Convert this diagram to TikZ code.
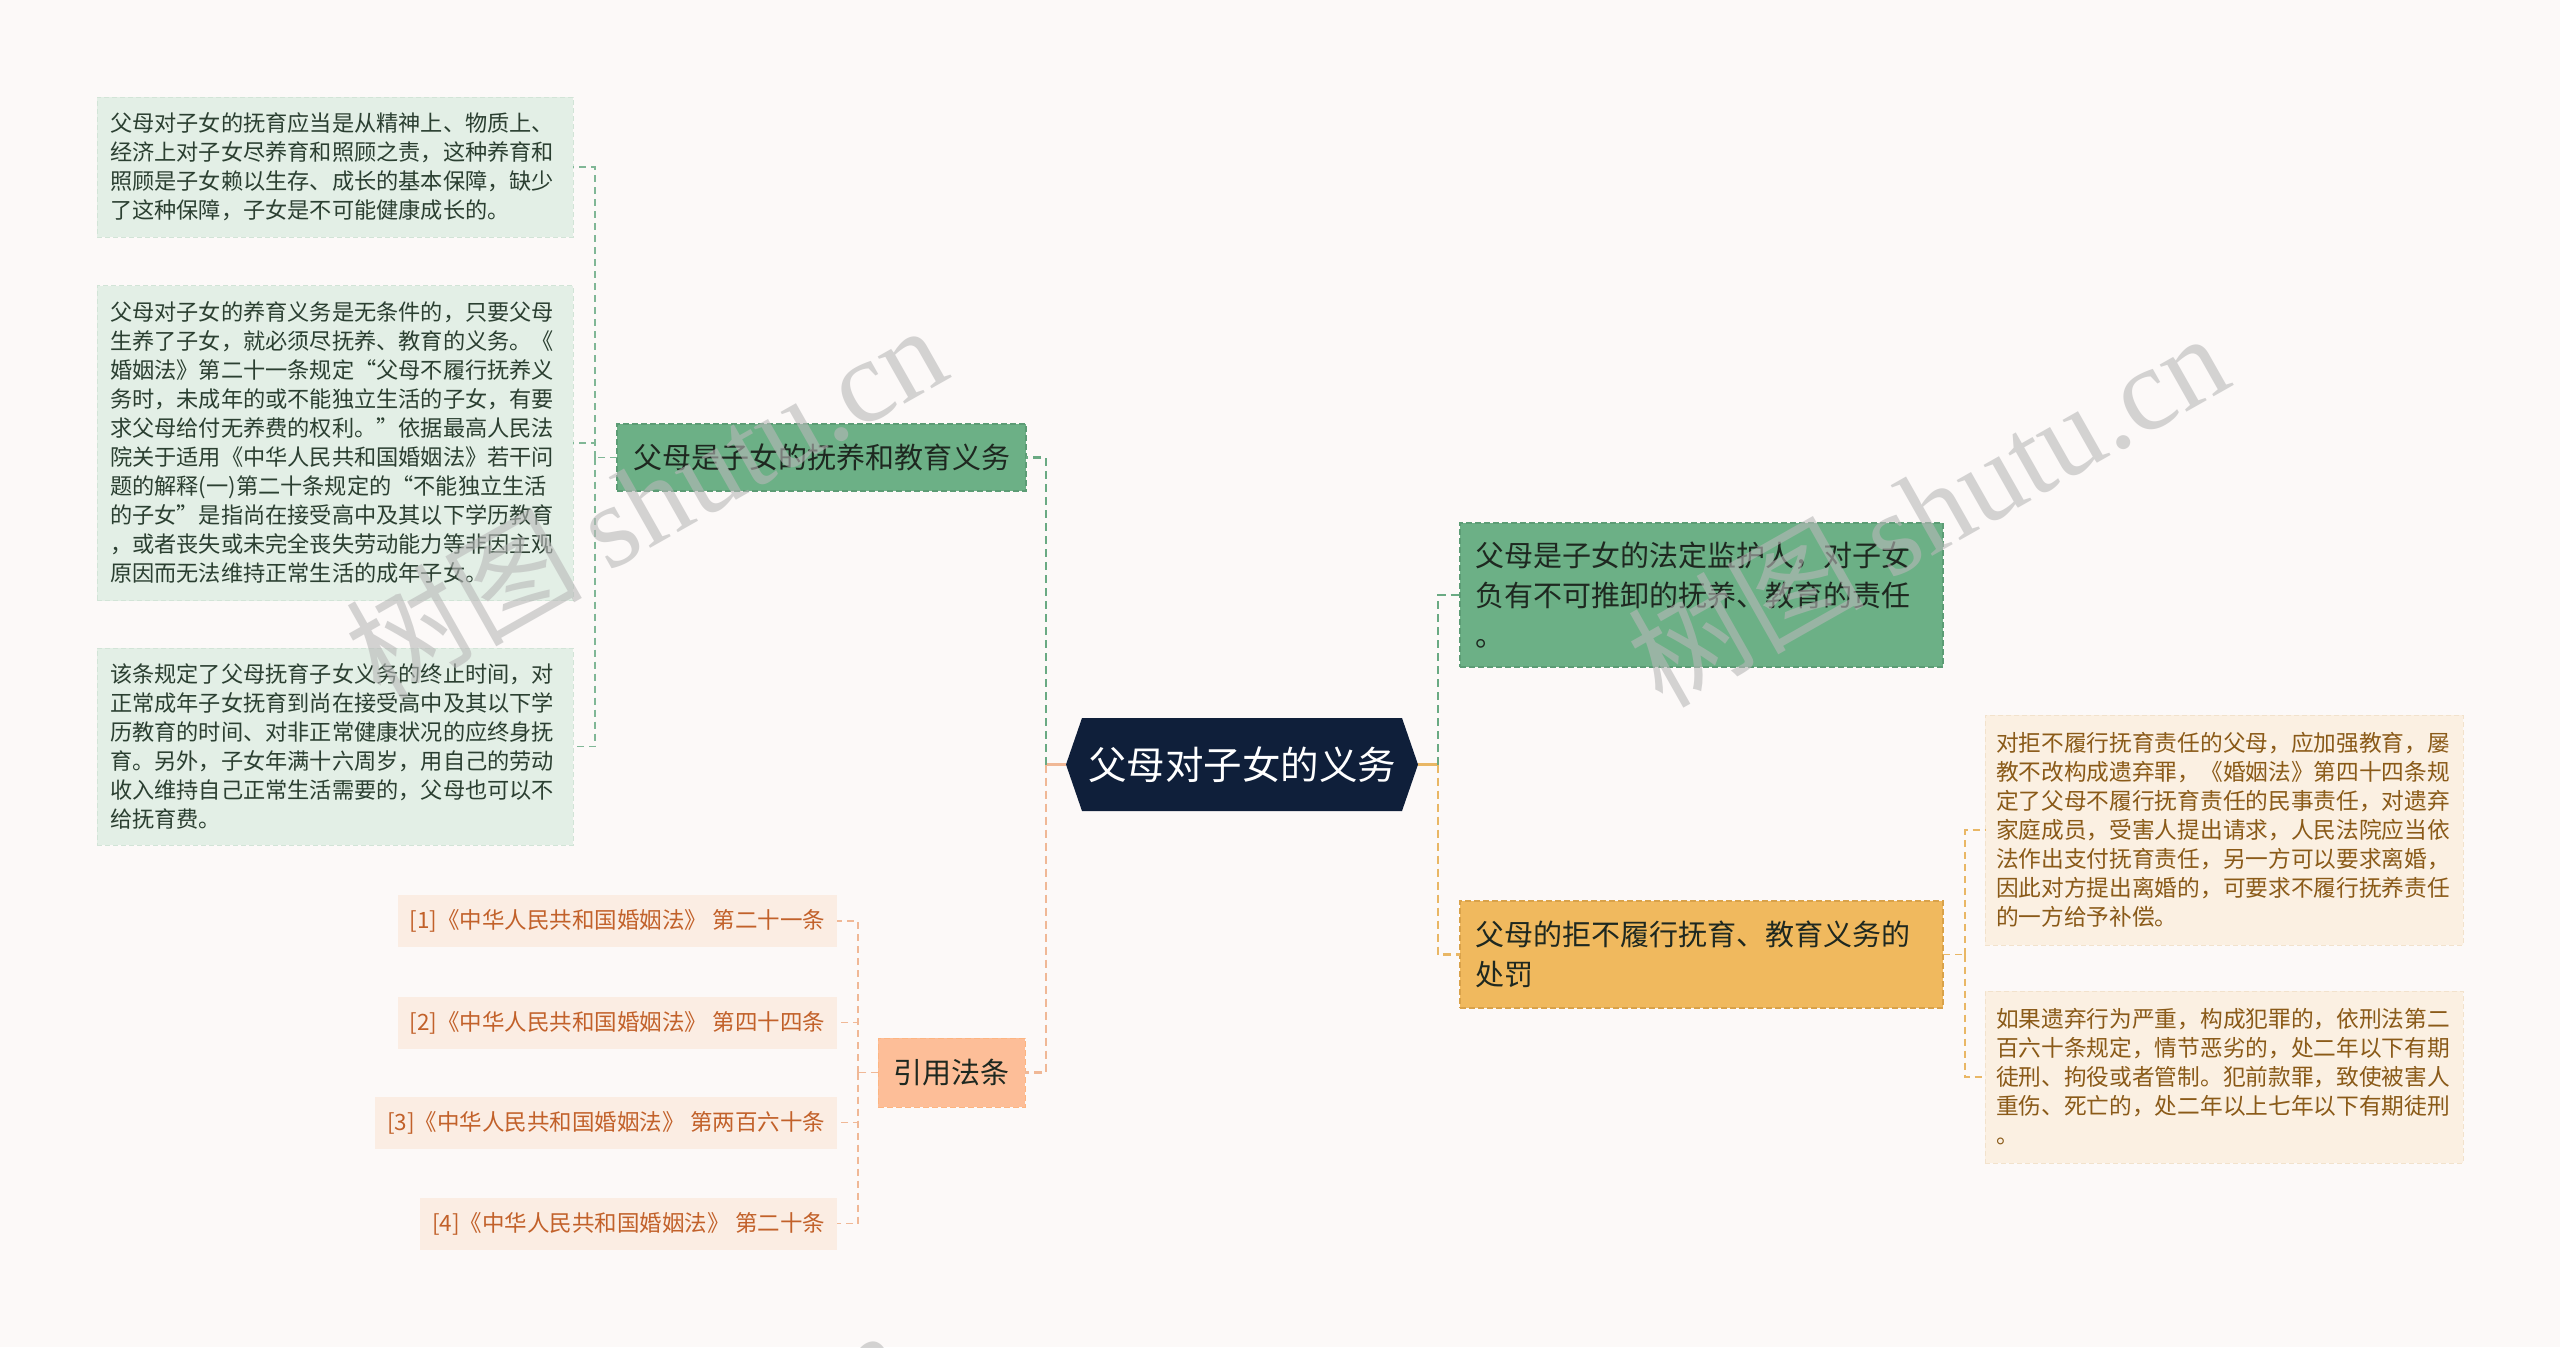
\documentclass[tikz,border=0pt]{standalone}
\usepackage{fontspec}
\setmainfont{Noto Sans CJK SC}
\newfontfamily\wmserif{Liberation Serif}
\usetikzlibrary{calc}
\definecolor{bg}{HTML}{FCF9F8}
\definecolor{navy}{HTML}{0F1F3A}
\definecolor{gfill}{HTML}{6CB086}
\definecolor{gborder}{HTML}{5C9C75}
\definecolor{gline}{HTML}{6AAA83}
\definecolor{lgfill}{HTML}{E3EFE6}
\definecolor{lgborder}{HTML}{D2E4D7}
\definecolor{lgtext}{HTML}{2B3F31}
\definecolor{btext}{HTML}{1E2820}
\definecolor{pfill}{HTML}{FDBE98}
\definecolor{pline}{HTML}{F0B896}
\definecolor{rfill}{HTML}{FBEDE3}
\definecolor{rtext}{HTML}{C2612A}
\definecolor{yfill}{HTML}{F0B95E}
\definecolor{yborder}{HTML}{D9A24A}
\definecolor{yline}{HTML}{E9B765}
\definecolor{cfill}{HTML}{FBF0E2}
\definecolor{cborder}{HTML}{F2E2CC}
\definecolor{ctext}{HTML}{8A5A18}
\begin{document}
\begin{tikzpicture}[x=1pt,y=-1pt,
  every node/.style={inner sep=0pt, outer sep=0pt},
  rootn/.style={minimum width=352pt, minimum height=93pt, text=white, font=\fontsize{38.5}{46}\selectfont},
  gbranch/.style={fill=gfill, draw=gborder, line width=1.2pt, dash pattern=on 6pt off 3pt, text=btext, font=\fontsize{29}{40}\selectfont},
  ybranch/.style={fill=yfill, draw=yborder, line width=1.2pt, dash pattern=on 6pt off 3pt, text=btext, font=\fontsize{29}{40}\selectfont},
  citen/.style={fill=pfill, draw=pfill!85!orange, line width=1pt, dash pattern=on 6pt off 3pt, text=btext, font=\fontsize{29}{40}\selectfont, minimum width=147pt, minimum height=69pt},
  lgleaf/.style={fill=lgfill, draw=lgborder, line width=1pt, dash pattern=on 5pt off 3pt, text=lgtext, text width=450pt, inner xsep=13pt, align=left, font=\fontsize{22.2}{29}\selectfont},
  cleaf/.style={fill=cfill, draw=cborder, line width=1pt, dash pattern=on 5pt off 3pt, text=ctext, text width=456pt, inner xsep=11pt, align=left, font=\fontsize{22.7}{29}\selectfont},
  refn/.style={fill=rfill, text=rtext, inner xsep=12pt, minimum height=52pt, anchor=east, font=\fontsize{22.5}{29}\selectfont},
  gtrunk/.style={draw=gline, line width=2.5pt, dash pattern=on 8pt off 5pt},
  ptrunk/.style={draw=pline, line width=2.5pt, dash pattern=on 8pt off 5pt},
  ytrunk/.style={draw=yline, line width=2.5pt, dash pattern=on 8pt off 5pt},
  gleafc/.style={draw=gline!85, line width=1.5pt, dash pattern=on 7pt off 5pt},
  pleafc/.style={draw=pline, line width=1.5pt, dash pattern=on 7pt off 5pt},
  yleafc/.style={draw=yline, line width=1.5pt, dash pattern=on 7pt off 5pt},
  wm/.style={text=black!28, opacity=0.6, rotate=29.5, font=\fontsize{118}{120}\selectfont}
]
\fill[bg] (0,0) rectangle (2560,1347);
\useasboundingbox (0,0) rectangle (2560,1347);

% root
\fill[navy] (1066,764.5) -- (1082,718) -- (1402,718) -- (1418,764.5) -- (1402,811) -- (1082,811) -- cycle;
\node[rootn] (root) at (1242,764.5) {父母对子女的义务};

% main branches
\node[gbranch, minimum width=409pt, minimum height=67pt] (bA) at (821.5,457.5) {父母是子女的抚养和教育义务};
\node[citen] (cite) at (951.5,1072.5) {引用法条};
\node[gbranch, text width=453pt, inner xsep=15pt, align=left, minimum height=144pt] (bB) at (1701.5,595) {父母是子女的法定监护人，对子女\\负有不可推卸的抚养、教育的责任\\。};
\node[ybranch, text width=453pt, inner xsep=15pt, align=left, minimum height=107pt] (bC) at (1701.5,954.5) {父母的拒不履行抚育、教育义务的\\处罚};

% left leaves
\node[lgleaf, minimum height=140pt] (lA1) at (335,167) {父母对子女的抚育应当是从精神上、物质上、\\经济上对子女尽养育和照顾之责，这种养育和\\照顾是子女赖以生存、成长的基本保障，缺少\\了这种保障，子女是不可能健康成长的。};
\node[lgleaf, minimum height=315pt] (lA2) at (335,443) {父母对子女的养育义务是无条件的，只要父母\\生养了子女，就必须尽抚养、教育的义务。《\\婚姻法》第二十一条规定“父母不履行抚养义\\务时，未成年的或不能独立生活的子女，有要\\求父母给付无养费的权利。”依据最高人民法\\院关于适用《中华人民共和国婚姻法》若干问\\题的解释(一)第二十条规定的“不能独立生活\\的子女”是指尚在接受高中及其以下学历教育\\，或者丧失或未完全丧失劳动能力等非因主观\\原因而无法维持正常生活的成年子女。};
\node[lgleaf, minimum height=197pt] (lA3) at (335,746.5) {该条规定了父母抚育子女义务的终止时间，对\\正常成年子女抚育到尚在接受高中及其以下学\\历教育的时间、对非正常健康状况的应终身抚\\育。另外，子女年满十六周岁，用自己的劳动\\收入维持自己正常生活需要的，父母也可以不\\给抚育费。};

% references
\node[refn] (r1) at (837,921) {[1]《中华人民共和国婚姻法》 第二十一条};
\node[refn] (r2) at (837,1022.5) {[2]《中华人民共和国婚姻法》 第四十四条};
\node[refn] (r3) at (837,1122.5) {[3]《中华人民共和国婚姻法》 第两百六十条};
\node[refn] (r4) at (837,1223.5) {[4]《中华人民共和国婚姻法》 第二十条};

% right leaves
\node[cleaf, minimum height=230pt] (lC1) at (2224,830) {对拒不履行抚育责任的父母，应加强教育，屡\\教不改构成遗弃罪，《婚姻法》第四十四条规\\定了父母不履行抚育责任的民事责任，对遗弃\\家庭成员，受害人提出请求，人民法院应当依\\法作出支付抚育责任，另一方可以要求离婚，\\因此对方提出离婚的，可要求不履行抚养责任\\的一方给予补偿。};
\node[cleaf, minimum height=172pt] (lC2) at (2224,1077) {如果遗弃行为严重，构成犯罪的，依刑法第二\\百六十条规定，情节恶劣的，处二年以下有期\\徒刑、拘役或者管制。犯前款罪，致使被害人\\重伤、死亡的，处二年以上七年以下有期徒刑\\。};

% junction coordinates
\coordinate (jl) at (1046,764.5);
\coordinate (jr) at (1438,764.5);
\coordinate (ja) at (595,457.5);
\coordinate (jc) at (858,1072.5);
\coordinate (jC) at (1965,954.5);

% root connectors
\draw[pline, line width=2.5pt] (root.west) -- (jl);
\draw[gtrunk] (jl) |- (bA.east);
\draw[ptrunk] (jl) |- (cite.east);
\draw[yline, line width=2.5pt] (root.east) -- (jr);
\draw[gtrunk] (jr) |- (bB.west);
\draw[ytrunk] (jr) |- (bC.west);

% leaf connectors
\draw[gleafc] (bA.west) -- (ja);
\draw[gleafc] (ja) |- (lA1.east);
\draw[gleafc] (ja) |- (lA2.east);
\draw[gleafc] (ja) |- (lA3.east);
\draw[pleafc] (cite.west) -- (jc);
\draw[pleafc] (jc) |- (r1.east);
\draw[pleafc] (jc) |- (r2.east);
\draw[pleafc] (jc) |- (r3.east);
\draw[pleafc] (jc) |- (r4.east);
\draw[yleafc] (bC.east) -- (jC);
\draw[yleafc] (jC) |- (lC1.west);
\draw[yleafc] (jC) |- (lC2.west);

% watermarks
\begin{scope}
\clip (0,0) rectangle (2560,1347);
\node[wm] (wm1) at (645,500) {树图 {\wmserif shutu.cn}};
\node[wm] (wm2) at (1927,508) {树图 {\wmserif shutu.cn}};
\node[wm] (wm3) at (604,1505) {树图 {\wmserif shutu.cn}};
\node[wm] (wm4) at (1886,1512) {树图 {\wmserif shutu.cn}};
\end{scope}
\end{tikzpicture}
\end{document}
